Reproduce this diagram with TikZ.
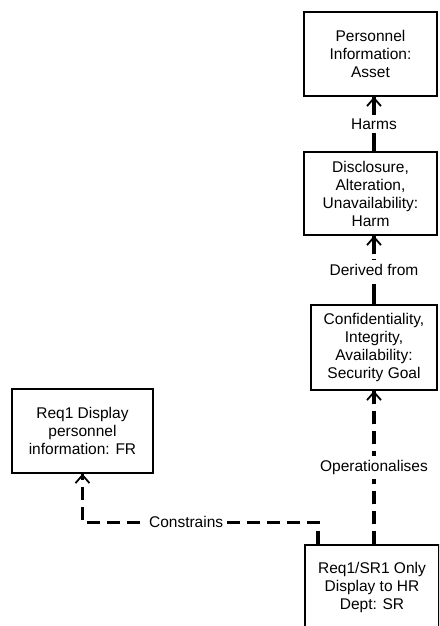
\documentclass[tikz,border=0pt]{standalone}
\usepackage{fontspec}
\setmainfont{Liberation Sans}
\usetikzlibrary{arrows.meta}

\begin{document}
\begin{tikzpicture}[x=1pt,y=1pt,yscale=-1,
        box/.style={draw,line width=1.5pt,align=center,inner sep=0pt,font=\fontsize{15.5}{18}\selectfont},
        conn/.style={line width=3.3pt,-{Straight Barb[length=8pt,width=14pt,line width=1.8pt]},postaction={draw,-}},
        dashconn/.style={conn,dash pattern=on 13pt off 7pt},
        lbl/.style={fill=white,inner xsep=2pt,inner ysep=4pt,font=\fontsize{15.5}{18}\selectfont}]
        \useasboundingbox (0,0) rectangle (439,626);
        \clip (0,0) rectangle (439,626);

        % Boxes
        \node[box,minimum width=133pt,minimum height=84pt] (asset) at (370.5,54) {Personnel\\Information:\\Asset};
        \node[box,minimum width=133pt,minimum height=83pt] (harm) at (370.5,193.5) {Disclosure,\\Alteration,\\Unavailability:\\Harm};
        \node[box,minimum width=126pt,minimum height=85pt] (goal) at (374,347.5) {Confidentiality,\\Integrity,\\Availability:\\Security Goal};
        \node[box,minimum width=141pt,minimum height=84pt] (fr) at (82.5,431) {Req1 Display\\personnel\\information: FR};
        \node[box,minimum width=134pt,minimum height=84pt] (sr) at (372,587) {Req1/SR1 Only\\Display to HR\\Dept: SR};

        % Connectors
        \draw[conn] (harm.north -| goal.north) -- node[lbl] {Harms} (asset.south -| goal.north);
        \draw[conn,dash pattern=on 20pt off 5pt] (goal.north) -- node[lbl] {Derived from} (harm.south -| goal.north);
        \draw[dashconn] (sr.north -| goal.north) -- node[lbl] {Operationalises} (goal.south);
        \draw[dashconn] ([xshift=-54pt]sr.north) -- ++(0,-22) -| node[lbl,pos=0.28] {Constrains} (fr.south);

\end{tikzpicture}
\end{document}
